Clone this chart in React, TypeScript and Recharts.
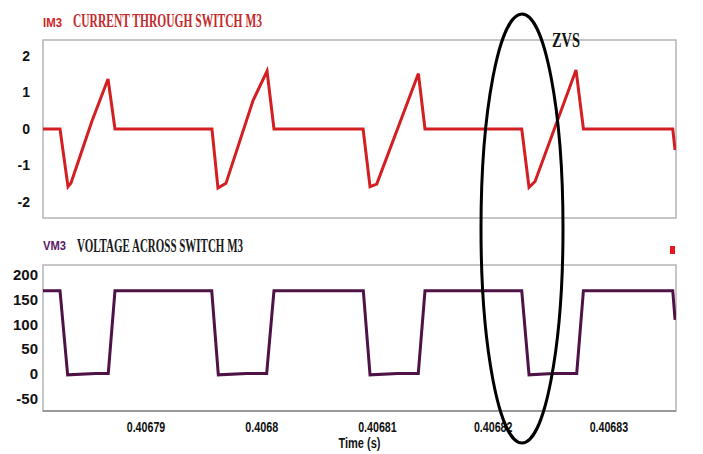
import { LineChart, Line, XAxis, YAxis, ReferenceArea } from 'recharts'

// time axis (s) and tick labels
const timeDomain = [0.4067811, 0.4068358]
const timeTicks = [0.40679, 0.4068, 0.40681, 0.40682, 0.40683]

// IM3 - current through switch M3
const currentTime = [
  0.4067811, 0.40678257, 0.40678326, 0.40678352, 0.40678531, 0.40678672, 0.40678732,
  0.4067957, 0.40679622, 0.40679691, 0.40679925, 0.40680046, 0.40680106,
  0.40680876, 0.40680936, 0.40680994, 0.40681354, 0.40681411,
  0.40682247, 0.4068231, 0.40682362, 0.40682716, 0.4068278,
  0.40683552, 0.40683572,
]
const currentValue = [
  0, 0, -1.58, -1.48, 0.2, 1.37, 0,
  0, -1.62, -1.49, 0.78, 1.59, 0,
  0, -1.58, -1.51, 1.52, 0,
  0, -1.6, -1.44, 1.62, 0,
  0, -0.58,
]
const currentTicks = [-2, -1, 0, 1, 2]
const currentDomain = [-2.44, 2.44]

// VM3 - voltage across switch M3
const voltageTime = [
  0.4067811, 0.40678257, 0.40678323, 0.40678565, 0.40678674, 0.40678732,
  0.40679568, 0.40679625, 0.4067987, 0.40680043, 0.40680106,
  0.40680878, 0.40680936, 0.40681175, 0.40681353, 0.40681411,
  0.40682247, 0.4068231, 0.40682518, 0.40682722, 0.4068278,
  0.40683552, 0.40683572,
]
const voltageValue = [
  168, 168, -2, 1, 1, 168,
  168, -2, 1, 1, 168,
  168, -2, 1, 1, 168,
  168, -2, 1, 1, 168,
  168, 109,
]
const voltageTicks = [-50, 0, 50, 100, 150, 200]
const voltageDomain = [-75, 220]

const currentData = currentTime.map((t, i) => ({ t, v: currentValue[i] }))
const voltageData = voltageTime.map((t, i) => ({ t, v: voltageValue[i] }))

const sans = "'Liberation Sans', Arial, sans-serif"
const serif = "'Liberation Serif', 'Times New Roman', serif"

// narrow tick labels, squeezed like the original's Arial Narrow
function TimeTick(props: any) {
  const { x, y, payload } = props
  const s = String(+Number(payload.value).toFixed(5))
  return (
    <text x={x} y={y} dy="0.71em" textAnchor="middle" fill="#111" fontSize={14} fontWeight={700}
      fontFamily={sans} textLength={s.length * 5.5} lengthAdjust="spacingAndGlyphs">{s}</text>
  )
}

function TimeLabel(props: any) {
  const { viewBox } = props
  const cx = viewBox.x + viewBox.width / 2
  return (
    <text x={cx} y={viewBox.y + viewBox.height - 3} textAnchor="middle" fill="#111" fontSize={14}
      fontWeight={700} fontFamily={sans} textLength={42} lengthAdjust="spacingAndGlyphs">Time (s)</text>
  )
}

export default function App() {
  return (
    <div style={{ position: 'absolute', left: 0, top: 0, width: 703, height: 454, background: '#fff' }}>
      <div style={{ position: 'absolute', left: 0, top: 0 }}>
        <LineChart width={703} height={230} data={currentData} margin={{ top: 40, right: 27, bottom: 12, left: 0 }}>
          <XAxis dataKey="t" type="number" domain={timeDomain} ticks={timeTicks} allowDataOverflow
            height={0} tick={false} tickLine={false} axisLine={{ stroke: '#555', strokeWidth: 1.5 }} />
          <YAxis type="number" domain={currentDomain} ticks={currentTicks} allowDataOverflow width={43}
            axisLine={false} tickLine={false} tickSize={0} tickMargin={13}
            tick={{ fill: '#111', fontSize: 14, fontFamily: sans, fontWeight: 700 }} />
          <ReferenceArea x1={timeDomain[0]} x2={timeDomain[1]} y1={currentDomain[0]} y2={currentDomain[1]}
            fill="none" stroke="#b4b4b4" strokeWidth={1.5} />
          <Line type="linear" dataKey="v" stroke="#d41f22" strokeWidth={3} dot={false} isAnimationActive={false} />
        </LineChart>
      </div>
      <div style={{ position: 'absolute', left: 0, top: 230 }}>
        <LineChart width={703} height={224} data={voltageData} margin={{ top: 35, right: 27, bottom: 3, left: 0 }}>
          <XAxis dataKey="t" type="number" domain={timeDomain} ticks={timeTicks} allowDataOverflow height={40}
            axisLine={{ stroke: '#8a8a8a', strokeWidth: 1.5 }} tickLine={false} tickSize={0} tickMargin={11}
            tick={<TimeTick />} label={<TimeLabel />} />
          <YAxis type="number" domain={voltageDomain} ticks={voltageTicks} allowDataOverflow width={43}
            axisLine={false} tickLine={false} tickSize={0} tickMargin={5}
            tick={{ fill: '#111', fontSize: 15, fontFamily: sans, fontWeight: 700 }} />
          <ReferenceArea x1={timeDomain[0]} x2={timeDomain[1]} y1={voltageDomain[0]} y2={voltageDomain[1]}
            fill="none" stroke="#b4b4b4" strokeWidth={1.5} />
          <Line type="linear" dataKey="v" stroke="#4e1246" strokeWidth={3} dot={false} isAnimationActive={false} />
        </LineChart>
      </div>
      <svg width={703} height={454} style={{ position: 'absolute', left: 0, top: 0, pointerEvents: 'none' }}>
        <text x={43} y={27} fill="#cc2424" fontSize={13} fontWeight={700} fontFamily={sans}
          textLength={19} lengthAdjust="spacingAndGlyphs">IM3</text>
        <text x={73} y={27} fill="#c42a2c" fontSize={18} fontWeight={700} fontFamily={serif}
          textLength={189} lengthAdjust="spacingAndGlyphs">CURRENT THROUGH SWITCH M3</text>
        <text x={43} y={250} fill="#5b1a66" fontSize={13} fontWeight={700} fontFamily={sans}
          textLength={23} lengthAdjust="spacingAndGlyphs">VM3</text>
        <text x={77} y={252} fill="#1a1a1a" fontSize={18} fontWeight={700} fontFamily={serif}
          textLength={166} lengthAdjust="spacingAndGlyphs">VOLTAGE ACROSS SWITCH M3</text>
        <text x={552} y={47} fill="#111" fontSize={20} fontWeight={700} fontFamily={serif}
          textLength={28} lengthAdjust="spacingAndGlyphs">ZVS</text>
        <rect x={670} y={246} width={5} height={8} fill="#e8161c" />
        <ellipse cx={522} cy={228.5} rx={41} ry={214.5} fill="none" stroke="#000" strokeWidth={3} />
      </svg>
    </div>
  )
}
